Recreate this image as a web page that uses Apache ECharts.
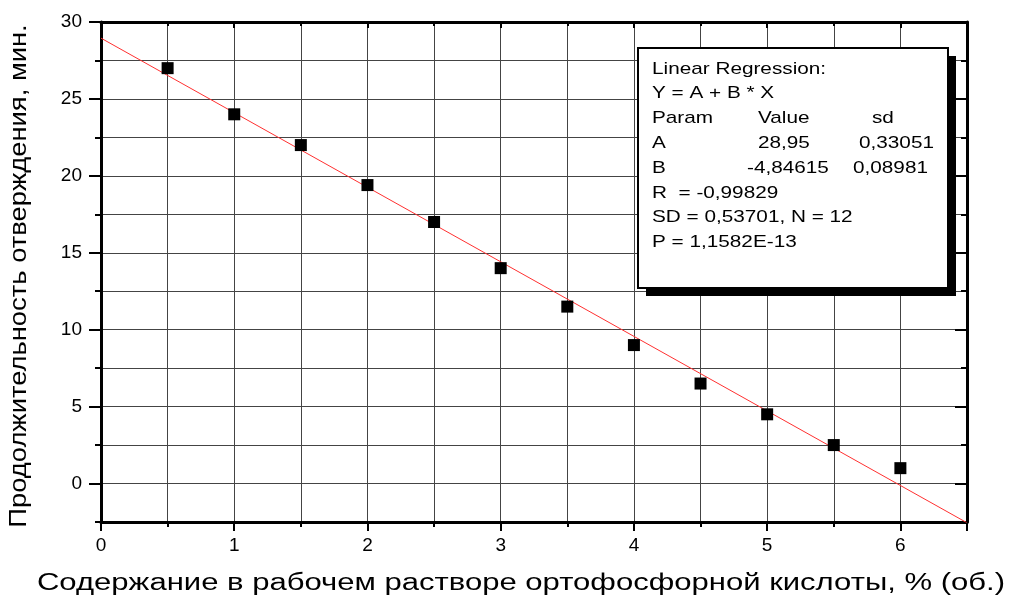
<!DOCTYPE html>
<html>
<head>
<meta charset="utf-8">
<script src="https://cdn.jsdelivr.net/npm/echarts@6/dist/echarts.min.js"></script>
<style>html,body{margin:0;padding:0;background:#fff}#c{width:1025px;height:599px}</style>
</head>
<body>
<div id="c"></div>
<script>
var xValues = [0.5, 1, 1.5, 2, 2.5, 3, 3.5, 4, 4.5, 5, 5.5, 6];
var yValues = [27, 24, 22, 19.4, 17, 14, 11.5, 9, 6.5, 4.5, 2.5, 1];
var fitX = [0, 6.5];
var fitY = [28.95, -2.55];
var xTickLabels = [0, 1, 2, 3, 4, 5, 6];
var yTickLabels = [0, 5, 10, 15, 20, 25, 30];
var xMajorTicks = [0, 1, 2, 3, 4, 5, 6, 6.5];
var yMajorTicks = [0, 5, 10, 15, 20, 25, 30];
var xTitle = 'Содержание в рабочем растворе ортофосфорной кислоты, % (об.)';
var yTitle = 'Продолжительность отверждения, мин.';
var boxLines = [
  ['Linear Regression:'],
  ['Y = A + B * X'],
  ['Param', 'Value', 'sd'],
  ['A', '28,95', '0,33051'],
  ['B', '-4,84615', '0,08981'],
  ['R  = -0,99829'],
  ['SD = 0,53701, N = 12'],
  ['P = 1,1582E-13']
];

var FONT = '"Liberation Sans", Arial, sans-serif';
var chart = echarts.init(document.getElementById('c'));

function axisBase(min, max, interval, pos) {
  return {
    type: 'value', min: min, max: max, interval: interval, position: pos,
    axisLine: { show: true, onZero: false, lineStyle: { color: '#000', width: 3 } },
    axisLabel: { show: false },
    splitLine: { show: false },
    axisTick: { show: false },
    minorTick: { show: false }
  };
}
var hiddenLine = { show: false, onZero: false };

var xa0 = axisBase(0, 6.5, 0.5, 'bottom');
xa0.splitLine = { show: true, lineStyle: { color: '#444', width: 1 } };
xa0.axisTick = { show: true, inside: false, length: 5, lineStyle: { color: '#000', width: 2 } };
xa0.axisLabel = { show: true, customValues: xTickLabels, color: '#000', fontSize: 19, fontFamily: FONT, margin: 14 };

var xa1 = axisBase(0, 6.5, 0.5, 'bottom');
xa1.axisLine = hiddenLine;
xa1.axisTick = { show: true, inside: false, length: 9, customValues: xMajorTicks, lineStyle: { color: '#000', width: 2 } };

var xa2 = axisBase(0, 6.5, 0.5, 'top');
xa2.axisTick = { show: true, inside: true, length: 4, lineStyle: { color: '#000', width: 2 } };

var xa3 = axisBase(0, 6.5, 0.5, 'top');
xa3.axisLine = hiddenLine;
xa3.axisTick = { show: true, inside: true, length: 6, customValues: xMajorTicks, lineStyle: { color: '#000', width: 2 } };

var ya0 = axisBase(-2.5, 30, 2.5, 'left');
ya0.splitLine = { show: true, lineStyle: { color: '#444', width: 1 } };
ya0.axisTick = { show: true, inside: false, length: 6, lineStyle: { color: '#000', width: 2 } };
ya0.axisLabel = { show: true, customValues: yTickLabels, color: '#000', fontSize: 19, fontFamily: FONT, margin: 19 };

var ya1 = axisBase(-2.5, 30, 2.5, 'left');
ya1.axisLine = hiddenLine;
ya1.axisTick = { show: true, inside: false, length: 12, customValues: yMajorTicks, lineStyle: { color: '#000', width: 2 } };

var ya2 = axisBase(-2.5, 30, 2.5, 'right');
ya2.axisTick = { show: true, inside: true, length: 6, lineStyle: { color: '#000', width: 2 } };

var ya3 = axisBase(-2.5, 30, 2.5, 'right');
ya3.axisLine = hiddenLine;
ya3.axisTick = { show: true, inside: true, length: 12, customValues: yMajorTicks, lineStyle: { color: '#000', width: 2 } };

var boxX = 638, boxY = 48, boxW = 310, boxH = 240;
var colX = [652, 758, 872];
var colXRow = { 3: [652, 758, 859], 4: [652, 747, 853] };
var graphics = [
  { type: 'rect', z: 100, shape: { x: boxX + 8, y: boxY + 8, width: boxW, height: boxH }, style: { fill: '#000' } },
  { type: 'rect', z: 101, shape: { x: boxX, y: boxY, width: boxW, height: boxH }, style: { fill: '#fff', stroke: '#000', lineWidth: 2 } },
  { type: 'text', z: 102, x: 521, y: 584, scaleX: 1.35,
    style: { text: xTitle, fill: '#000', font: '23px ' + FONT, textAlign: 'center', textVerticalAlign: 'middle' } },
  { type: 'text', z: 102, x: 20, y: 276, rotation: Math.PI / 2, scaleX: 1.19,
    style: { text: yTitle, fill: '#000', font: '23px ' + FONT, textAlign: 'center', textVerticalAlign: 'middle' } }
];
boxLines.forEach(function (row, i) {
  var xs = colXRow[i] || colX;
  row.forEach(function (txt, j) {
    graphics.push({
      type: 'text', z: 102, x: xs[j], y: 69 + i * 24.8, scaleX: 1.22,
      style: { text: txt, fill: '#000', font: '17px ' + FONT, textVerticalAlign: 'middle', textAlign: 'left' }
    });
  });
});

var scatterData = xValues.map(function (x, i) { return [x, yValues[i]]; });
var fitData = fitX.map(function (x, i) { return [x, fitY[i]]; });

chart.setOption({
  backgroundColor: '#fff',
  animation: false,
  grid: { left: 101, top: 22, right: 58, bottom: 77, containLabel: false },
  xAxis: [xa0, xa1, xa2, xa3],
  yAxis: [ya0, ya1, ya2, ya3],
  series: [
    { type: 'line', data: fitData, xAxisIndex: 0, yAxisIndex: 0, symbol: 'none', lineStyle: { color: '#ff3030', width: 1 }, z: 3 },
    { type: 'scatter', data: scatterData, xAxisIndex: 0, yAxisIndex: 0, symbol: 'rect', symbolSize: 12, itemStyle: { color: '#000', opacity: 1 }, z: 4 }
  ],
  graphic: graphics
});
</script>
</body>
</html>
